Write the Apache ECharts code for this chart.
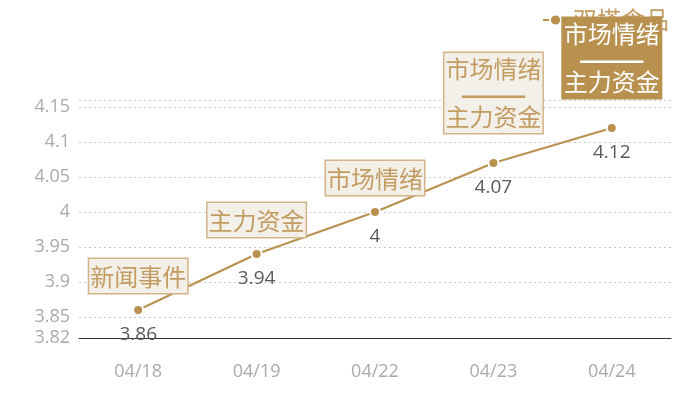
<!DOCTYPE html>
<html><head><meta charset="utf-8">
<script src="https://cdn.jsdelivr.net/npm/echarts@6/dist/echarts.min.js"></script>
<style>html,body{margin:0;padding:0;background:#fff}#c{width:700px;height:400px}</style>
</head><body><div id="c"></div>
<script>
const categories = ['04/18', '04/19', '04/22', '04/23', '04/24'];
const prices = [3.86, 3.94, 4, 4.07, 4.12];
const eventNames = ['新闻事件', '主力资金', '市场情绪', '市场情绪\n——\n主力资金', '市场情绪\n——\n主力资金'];
const seriesName = '双塔食品';
const yMin = 3.82, yMax = 4.16;

const gold = '#b8914f';
const FONT = 'Noto Sans CJK SC';
const NUMFONT = 'Open Sans';

const markData = categories.map((c, i) => {
  const multi = eventNames[i].indexOf('\n') >= 0;
  const last = i === categories.length - 1;
  const txtColor = last ? '#fff' : '#c29c60';
  return {
    name: eventNames[i],
    coord: [c, prices[i]],
    label: {
      show: true,
      position: 'top',
      distance: multi ? 30 : 17,
      formatter: function (p) {
        return p.name.split('\n').map(function (s) {
          return s.indexOf('—') >= 0 ? '{d|' + s + '}' : '{t|' + s + '}';
        }).join('\n');
      },
      fontFamily: FONT,
      fontSize: 24,
      lineHeight: 24,
      color: txtColor,
      backgroundColor: last ? gold : '#f3efe9',
      borderColor: last ? gold : '#d4b487',
      borderWidth: 1.5,
      padding: multi ? [4, 1, 4, 1] : [6, 1, 4, 1],
      rich: {
        t: { fontFamily: FONT, fontSize: 24, lineHeight: 24, color: txtColor },
        d: { fontFamily: FONT, fontSize: 40, lineHeight: 24, color: txtColor }
      }
    }
  };
});

const chart = echarts.init(document.getElementById('c'));
chart.setOption({
  animation: false,
  textStyle: { fontFamily: FONT },
  legend: {
    data: [seriesName],
    right: 26,
    top: 3,
    textStyle: { fontSize: 24, color: '#c29c60', fontFamily: FONT },
    itemWidth: 25,
    itemHeight: 14
  },
  grid: { left: 79, right: 29, top: 100, bottom: 62 },
  xAxis: {
    type: 'category',
    data: categories,
    axisLine: { lineStyle: { color: '#333', width: 1 } },
    axisTick: { show: false },
    axisLabel: { color: '#aaa', fontSize: 18, margin: 25, fontFamily: NUMFONT }
  },
  yAxis: {
    type: 'value',
    min: yMin,
    max: yMax,
    splitNumber: 5,
    axisLine: { show: false },
    axisTick: { show: false },
    axisLabel: { color: '#aaa', fontSize: 18, margin: 9, showMaxLabel: false, fontFamily: NUMFONT },
    splitLine: { lineStyle: { color: '#ccc', type: [2, 3] } }
  },
  series: [{
    name: seriesName,
    type: 'line',
    data: prices,
    symbol: 'circle',
    symbolSize: 10,
    lineStyle: { color: gold, width: 2 },
    itemStyle: { color: gold, borderColor: '#fff', borderWidth: 2 },
    label: {
      show: true,
      position: 'bottom',
      distance: 9,
      color: '#595959',
      fontSize: 19,
      fontFamily: NUMFONT
    },
    markPoint: {
      symbol: 'circle',
      symbolSize: 0,
      data: markData
    }
  }]
});
</script></body></html>
